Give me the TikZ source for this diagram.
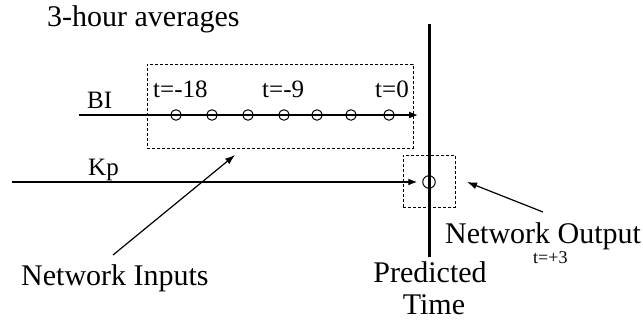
\documentclass[tikz,border=0pt]{standalone}
\usepackage{fontspec}
\setmainfont{Liberation Serif}
\usetikzlibrary{arrows.meta}
\begin{document}
\begin{tikzpicture}[x=1pt,y=-1pt,
  bigtxt/.style={inner sep=0pt,font=\fontsize{30}{32}\selectfont},
  midtxt/.style={inner sep=0pt,font=\fontsize{25}{27}\selectfont},
  smalltxt/.style={inner sep=0pt,font=\fontsize{18}{20}\selectfont},
  sample/.style={draw,circle,inner sep=0pt,minimum size=10.5pt,line width=1pt},
  dashbox/.style={draw,dash pattern=on 3pt off 2pt,line width=0.9pt},
  conn/.style={line width=1.3pt,-{Latex[length=9pt,width=7pt]}},
  pointer/.style={line width=1.2pt,-{Latex[length=10pt,width=7pt]}}
]
\useasboundingbox (0,0) rectangle (643,324);
% titles and labels
\node[bigtxt,anchor=base west] (title) at (47,27) {3-hour averages};
\node[midtxt,anchor=base west] (bi) at (87,108) {BI};
\node[midtxt,anchor=base west] (kp) at (88,175) {Kp};
\node[midtxt,anchor=base west] (t18) at (153,97) {t=-18};
\node[midtxt,anchor=base west] (t9) at (262,97) {t=-9};
\node[midtxt,anchor=base west] (t0) at (375,97) {t=0};
\node[bigtxt,anchor=base west] (inputs) at (21,285) {Network Inputs};
\node[bigtxt,anchor=base west] (output) at (445,243) {Network Output};
\node[smalltxt,anchor=base west] (tp3) at (533,263) {t=+3};
\node[bigtxt,anchor=base] (pred) at (430,282) {Predicted};
\node[bigtxt,anchor=base] (time) at (434,314) {Time};
% dashed boxes
\node[dashbox,anchor=north west,minimum width=266pt,minimum height=84pt,inner sep=0pt] (inbox) at (147,64) {};
\node[dashbox,anchor=north west,minimum width=52pt,minimum height=52pt,inner sep=0pt] (outbox) at (403,155) {};
% predicted time line
\coordinate (vtop) at (429,24);
\coordinate (vbot) at (429,257);
\draw[line width=3pt] (vtop) -- (vbot);
% BI series
\coordinate (bistart) at (79,115);
\coordinate (biend) at (418,115);
\draw[conn] (bistart) -- (biend);
\foreach \x/\n in {176/s1,212/s2,248/s3,284/s4,317/s5,351/s6,389/s7}
  \node[sample] (\n) at (\x,115) {};
% Kp series
\coordinate (kpstart) at (12,182);
\node[sample,minimum size=12.5pt] (outc) at (429,182) {};
\draw[conn,shorten >=5pt] (kpstart) -- (outc);
% pointers
\coordinate (intail) at (113,255);
\coordinate (intip) at (235,155);
\draw[pointer] (intail) -- (intip);
\coordinate (outtail) at (543,212);
\coordinate (outtip) at (467,182);
\draw[pointer] (outtail) -- (outtip);
\end{tikzpicture}
\end{document}
